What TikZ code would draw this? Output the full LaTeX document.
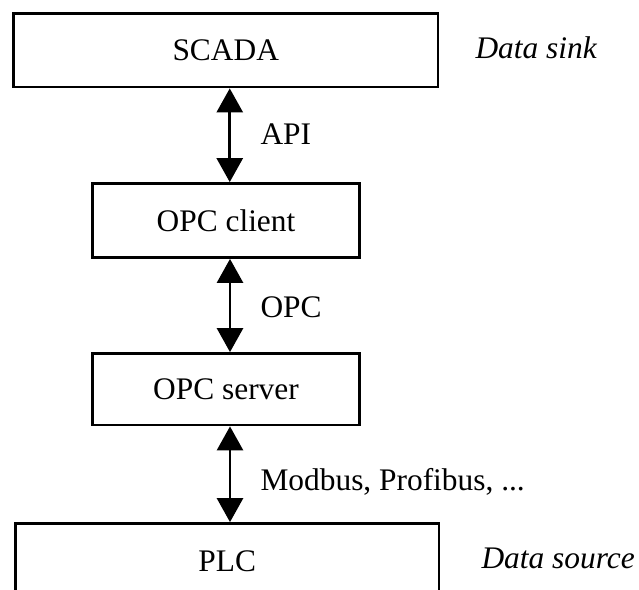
\documentclass[tikz,border=0pt]{standalone}
\usepackage{fontspec}
\setmainfont{Liberation Serif}
\usetikzlibrary{arrows.meta}

\tikzset{
  layer/.style={draw, line width=2.8pt, inner sep=0pt, font=\fontsize{31.4}{36}\selectfont},
  link/.style={{Triangle[length=24pt,width=26pt]}-{Triangle[length=24pt,width=26pt]}, line width=2.8pt},
  proto/.style={anchor=base west, font=\fontsize{31.4}{36}\selectfont},
  role/.style={anchor=base west, font=\fontsize{31.4}{36}\selectfont\itshape}
}

\begin{document}
\begin{tikzpicture}[x=1pt,y=-1pt]
    \path[use as bounding box, clip] (0,0) rectangle (639,589);

    % Layers of the stack
    \node[layer, minimum width=424.5pt, minimum height=73.5pt] (scada) at (225.75,50.25) {SCADA};
    \node[layer, minimum width=267pt, minimum height=74pt] (client) at (226,220.5) {OPC client};
    \node[layer, minimum width=267pt, minimum height=71.5pt] (server) at (226,389.25) {OPC server};
    \node[layer, minimum width=423.5pt, minimum height=76pt] (plc) at (227.25,561.5) {PLC};

    % Links between layers
    \draw[link] ([xshift=4pt]scada.south) -- ([xshift=4pt]scada.south |- client.north);
    \draw[link] ([xshift=4pt]client.south) -- ([xshift=4pt]server.north);
    \draw[link] ([xshift=4pt]server.south) -- ([xshift=4pt]server.south |- plc.north);

    % Protocol labels
    \node[proto] (api) at (257,144) {API};
    \node[proto] (opc) at (257,317) {OPC};
    \node[proto] (field) at (257,490) {Modbus, Profibus, ...};

    % Roles
    \node[role] (sink) at (472,58) {Data sink};
    \node[role] (source) at (478,568) {Data source};
\end{tikzpicture}
\end{document}
